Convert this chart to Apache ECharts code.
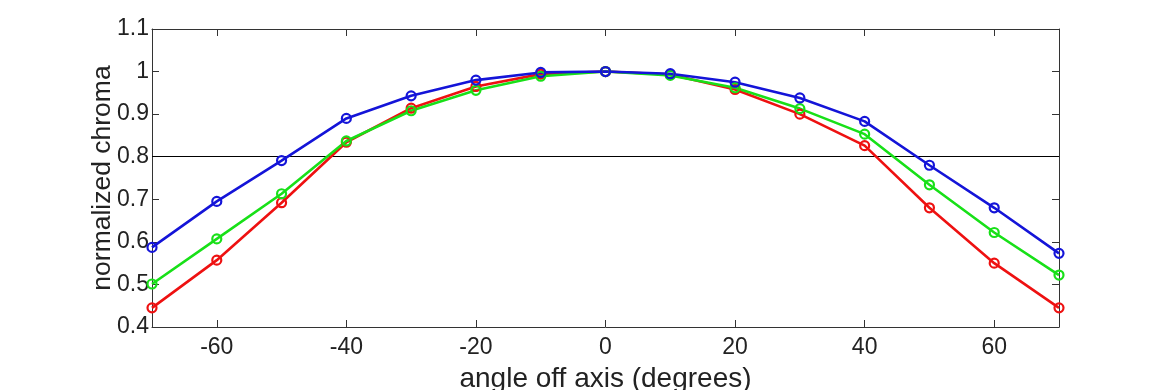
<!DOCTYPE html>
<html>
<head>
<meta charset="utf-8">
<script src="https://cdn.jsdelivr.net/npm/echarts@6/dist/echarts.min.js"></script>
<style>html,body{margin:0;padding:0;background:#fff}#c{width:1170px;height:390px}</style>
</head>
<body>
<div id="c"></div>
<script>
const angles = [-70,-60,-50,-40,-30,-20,-10,0,10,20,30,40,50,60,70];
const redVals   = [0.445,0.557,0.692,0.834,0.914,0.965,0.994,1.0,0.993,0.958,0.900,0.826,0.680,0.550,0.445];
const greenVals = [0.501,0.607,0.713,0.837,0.908,0.956,0.989,1.0,0.991,0.962,0.913,0.853,0.734,0.622,0.522];
const blueVals  = [0.587,0.695,0.791,0.890,0.943,0.980,0.998,1.0,0.995,0.975,0.938,0.883,0.780,0.680,0.573];
const xTicks = [-60,-40,-20,0,20,40,60];
const yTicks = [0.4,0.5,0.6,0.7,0.8,0.9,1.0,1.1];
const refLine = 0.8;

const font = 'Liberation Sans';
const axisColor = '#333';
function pairs(v){ return angles.map((a,i)=>[a,v[i]]); }
function mk(name,color,vals){
  return {name,type:'line',data:pairs(vals),symbol:'circle',symbolSize:9,
    lineStyle:{color,width:2.6},itemStyle:{color:'rgba(255,255,255,0)',borderColor:color,borderWidth:2.2},
    emphasis:{disabled:true},animation:false,z:3};
}
const chart = echarts.init(document.getElementById('c'));
const xBase = {type:'value',min:-70,max:70,
  axisLine:{show:true,onZero:false,lineStyle:{color:axisColor,width:1}},
  axisTick:{show:true,inside:true,length:7,customValues:xTicks,lineStyle:{color:axisColor}},
  splitLine:{show:false}};
const yBase = {type:'value',min:0.4,max:1.1,interval:0.1,
  axisLine:{show:true,onZero:false,lineStyle:{color:axisColor,width:1}},
  axisTick:{show:true,inside:true,length:7,lineStyle:{color:axisColor}},
  splitLine:{show:false}};
chart.setOption({
  animation:false,
  grid:{left:152,right:111,top:29,bottom:63,containLabel:false,outerBoundsMode:'none'},
  xAxis:[
    Object.assign({},xBase,{position:'bottom',
      name:'angle off axis (degrees)',nameLocation:'middle',nameGap:38,nameMoveOverlap:false,
      nameTextStyle:{fontFamily:font,fontSize:28,color:'#222'},
      axisLabel:{customValues:xTicks,fontFamily:font,fontSize:23,color:'#222',margin:9}}),
    Object.assign({},xBase,{position:'top',axisLabel:{show:false}})
  ],
  yAxis:[
    Object.assign({},yBase,{position:'left',
      name:'normalized chroma',nameLocation:'middle',nameGap:36,nameMoveOverlap:false,
      nameTextStyle:{fontFamily:font,fontSize:26.5,color:'#222'},
      axisLabel:{fontFamily:font,fontSize:23,color:'#222',margin:3,
        formatter:v=>{const r=Math.round(v*10)/10; return r===1?'1':r.toString();}}}),
    Object.assign({},yBase,{position:'right',axisLabel:{show:false}})
  ],
  series:[
    Object.assign(mk('red','#ee1111',redVals),{markLine:{silent:true,symbol:'none',label:{show:false},
      lineStyle:{color:'#000',width:1.2,type:'solid'},data:[{yAxis:refLine}],z:2}}),
    mk('green','#18e018',greenVals),
    mk('blue','#1414d8',blueVals)
  ]
});
</script>
</body>
</html>
